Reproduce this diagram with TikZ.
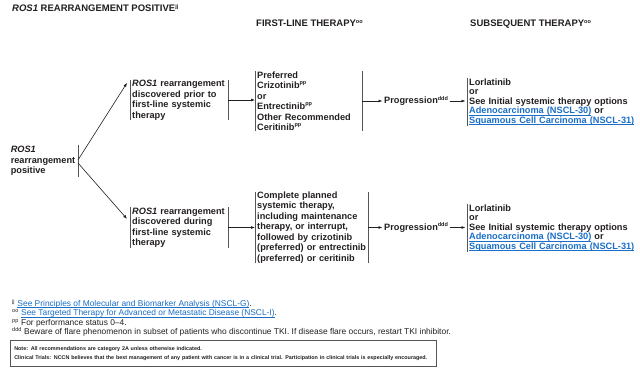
\documentclass[tikz,border=0pt]{standalone}
\usepackage{fontspec}
\setmainfont{Liberation Sans}
\usetikzlibrary{arrows.meta,calc}
\definecolor{ink}{RGB}{35,31,32}
\definecolor{barc}{RGB}{85,85,85}
\definecolor{linkblue}{RGB}{25,110,200}
\newcommand\fnm[1]{\textsuperscript{\fontsize{5.5pt}{5pt}\selectfont #1}}
\newcommand\lnk[1]{\textcolor{linkblue}{\setbox0\hbox{#1}\rlap{\rule[-0.16em]{\wd0}{0.06em}}\box0}}
\newcommand\gene{\textit{ROS1}}
\begin{document}
\begin{tikzpicture}[x=1pt,y=-1pt,
  every node/.style={text=ink},
  txt/.style={font=\bfseries\fontsize{9.2pt}{10.5pt}\selectfont, align=left, inner xsep=2pt, inner ysep=0pt},
  tight/.style={font=\bfseries\fontsize{9.2pt}{9.6pt}\selectfont},
  bar/.style={draw=barc, line width=0.8pt},
  arr/.style={draw=ink, line width=0.6pt, -{Latex[length=4pt,width=3pt]}},
  hdr/.style={font=\bfseries\fontsize{9.5pt}{11pt}\selectfont, inner sep=0pt, anchor=base west},
]
\useasboundingbox[fill=white] (0,0) rectangle (640,371);

% headers
\node[hdr] (title) at (12,12) {\textit{ROS1} REARRANGEMENT POSITIVE\fnm{jj}};
\node[hdr] (h1) at (256,27) {FIRST-LINE THERAPY\fnm{oo}};
\node[hdr] (h2) at (470,27) {SUBSEQUENT THERAPY\fnm{oo}};

% nodes
\node[txt, text width=65pt, anchor=east, inner ysep=1.5pt] (pos) at (78,161) {\gene\\rearrangement\\positive};
\node[txt, text width=94pt, anchor=west] (prior) at (130,100) {\gene{} rearrangement\\discovered prior to\\first-line systemic\\therapy};
\node[txt, text width=94pt, anchor=west] (during) at (130,227.5) {\gene{} rearrangement\\discovered during\\first-line systemic\\therapy};
\node[txt, text width=103pt, anchor=west] (first1) at (255,101) {Preferred\\Crizotinib\fnm{pp}\\or\\Entrectinib\fnm{pp}\\Other Recommended\\Ceritinib\fnm{pp}};
\node[txt, text width=109pt, anchor=west] (first2) at (255,227.5) {Complete planned\\systemic therapy,\\including maintenance\\therapy, or interrupt,\\followed by crizotinib\\(preferred) or entrectinib\\(preferred) or ceritinib};
\node[txt, inner xsep=0pt, anchor=west] (prog1) at (384,101) {Progression\fnm{ddd}};
\node[txt, inner xsep=0pt, anchor=west] (prog2) at (384,227.5) {Progression\fnm{ddd}};
\node[txt, tight, text width=168pt, anchor=west] (sub1) at (467,102) {Lorlatinib\\or\\See Initial systemic therapy options\\\lnk{Adenocarcinoma (NSCL-30)} or\\\lnk{Squamous Cell Carcinoma (NSCL-31)}};
\node[txt, tight, text width=168pt, anchor=west] (sub2) at (467,228) {Lorlatinib\\or\\See Initial systemic therapy options\\\lnk{Adenocarcinoma (NSCL-30)} or\\\lnk{Squamous Cell Carcinoma (NSCL-31)}};

% bars
\foreach \n in {prior,during,first1,first2,sub1,sub2}
  \draw[bar] (\n.north west) -- (\n.south west);
\foreach \n in {pos,prior,during,first1,first2}
  \draw[bar] (\n.north east) -- (\n.south east);

% connectors
\draw[arr] ($(pos.east)+(0,-1)$) -- ($(prior.north west)+(-3,3)$);
\draw[arr] ($(pos.east)+(0,2)$) -- ($(during.north west)+(-3,11.5)$);
\draw[arr] (prior.east) -- (prior.east -| first1.west);
\draw[arr] (during.east) -- (during.east -| first2.west);
\draw[arr, shorten >=1.5pt] (first1.east) -- (first1.east -| prog1.west);
\draw[arr, shorten >=1.5pt] (first2.east) -- (first2.east -| prog2.west);
\draw[arr, shorten <=1pt, shorten >=1.5pt] (prog1.east) -- (prog1.east -| sub1.west);
\draw[arr, shorten <=1pt, shorten >=1.5pt] (prog2.east) -- (prog2.east -| sub2.west);

% footnotes
\node[anchor=north west, inner sep=0pt, align=left, font=\fontsize{8.4pt}{9.3pt}\selectfont] (fn) at (12,299.5)
 {\fnm{jj} \lnk{See Principles of Molecular and Biomarker Analysis (NSCL-G)}.\\
  \fnm{oo} \lnk{See Targeted Therapy for Advanced or Metastatic Disease (NSCL-I)}.\\
  \fnm{pp} For performance status 0--4.\\
  \fnm{ddd} Beware of flare phenomenon in subset of patients who discontinue TKI. If disease flare occurs, restart TKI inhibitor.};

% note box
\node[draw=barc, line width=0.6pt, anchor=north west, minimum width=426pt, minimum height=26pt, text width=418pt, inner xsep=4pt, align=left, font=\bfseries\fontsize{5.4pt}{9pt}\selectfont] (note) at (10,340)
 {Note: All recommendations are category 2A unless otherwise indicated.\\
  Clinical Trials: NCCN believes that the best management of any patient with cancer is in a clinical trial. Participation in clinical trials is especially encouraged.};
\end{tikzpicture}
\end{document}
